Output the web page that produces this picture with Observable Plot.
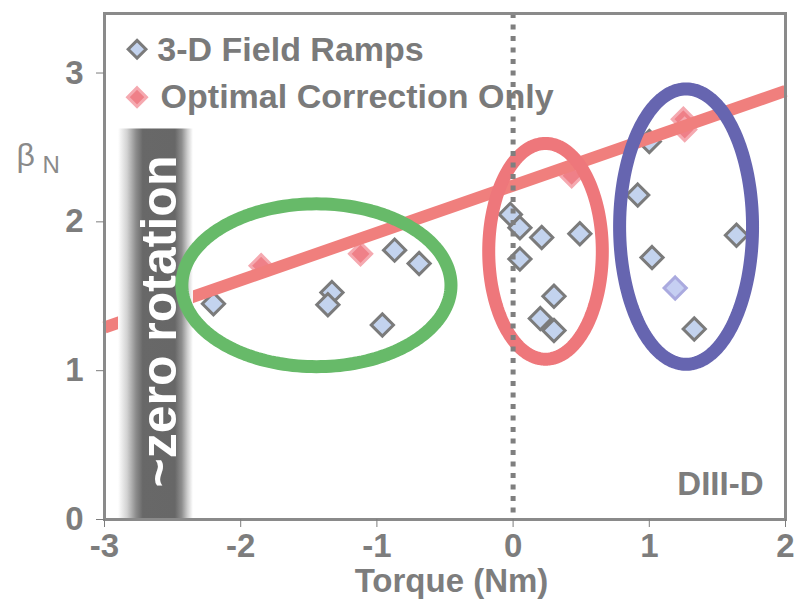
<!DOCTYPE html>
<html>
<head>
<meta charset="utf-8">
<script src="https://cdn.jsdelivr.net/npm/d3@7"></script>
<script src="https://cdn.jsdelivr.net/npm/@observablehq/plot@0.6"></script>
<style>
  html, body { margin: 0; padding: 0; background: #fff; }
</style>
</head>
<body>
<div id="chart"></div>
<script>
// Shots with 3-D field ramps: torque (Nm) and normalized beta
const rampTorque = [-2.20, -1.33, -1.36, -0.96, -0.87, -0.69, -0.02, 0.05, 0.21, 0.49, 0.05, 0.30, 0.20, 0.30, 1.00, 0.915, 1.64, 1.02, 1.33];
const rampBeta   = [ 1.45,  1.525, 1.443, 1.307, 1.81,  1.72,  2.05, 1.96, 1.895, 1.92, 1.75, 1.50, 1.35, 1.27, 2.54, 2.18, 1.91, 1.76, 1.28];
// Faded ramp shot
const fadedTorque = [1.19];
const fadedBeta   = [1.555];
// Shots with optimal error-field correction only
const optTorque = [-1.85, -1.12, 0.43, 1.25, 1.26];
const optBeta   = [ 1.705, 1.785, 2.31, 2.69, 2.62];

// Linear trend through the optimal-correction shots
const trendTorque = [-3, 2];
const trendBeta   = [1.29, 2.88];

// Zero-rotation band
const bandTorque = [-2.897, -2.347];
const bandBeta   = [0, 2.624];

// Shot groups circled on the chart
const groupNames = ["low", "mid", "high"];
const groupCx = [-1.444, 0.238, 1.27];
const groupCy = [1.574, 1.802, 1.968];
const groupRx = [0.988, 0.417, 0.488];
const groupRy = [0.547, 0.725, 0.925];

const xTicks = [-3, -2, -1, 0, 1, 2];
const yTicks = [0, 1, 2, 3];
const legendLabels = ["3-D Field Ramps", "Optimal Correction Only"];

const groupColor = {low: "#67ba69", mid: "#ee777b", high: "#6665b0"};

const ramps = rampTorque.map((x, i) => ({x, y: rampBeta[i]}));
const faded = fadedTorque.map((x, i) => ({x, y: fadedBeta[i]}));
const opt = optTorque.map((x, i) => ({x, y: optBeta[i]}));
const trend = trendTorque.map((x, i) => ({x, y: trendBeta[i]}));

// Outline points for each circled group
const outlines = groupNames.map((name, g) =>
  d3.range(0, 360, 2).map(a => {
    const t = a * Math.PI / 180;
    return {name, x: groupCx[g] + groupRx[g] * Math.cos(t), y: groupCy[g] + groupRy[g] * Math.sin(t)};
  })
);

const rampStyle = {symbol: "diamond2", r: 10, fill: "#c3d3ee", stroke: "#7b7b7b", strokeWidth: 3};
const optStyle = {symbol: "diamond2", r: 10, fill: "#ef8088", stroke: "#f5a9b0", strokeWidth: 3};

const chart = Plot.plot({
  width: 806,
  height: 613,
  marginLeft: 104,
  marginRight: 21,
  marginTop: 13,
  marginBottom: 94,
  x: {domain: [-3, 2]},
  y: {domain: [0, 3.4]},
  style: {
    fontFamily: "'Liberation Sans', Arial, sans-serif",
    fontSize: "33px",
    fontWeight: "bold",
    color: "#7d7d7d",
    background: "#fff"
  },
  marks: [
    Plot.dot(ramps, {x: "x", y: "y", ...rampStyle}),
    Plot.dot(faded, {x: "x", y: "y", symbol: "diamond2", r: 10, fill: "#c6cff2", stroke: "#aaaadf", strokeWidth: 3}),
    Plot.dot(opt, {x: "x", y: "y", ...optStyle}),
    Plot.line(trend, {x: "x", y: "y", stroke: "#f07f7d", strokeWidth: 12, strokeLinecap: "butt"}),
    Plot.rect([0], {x1: () => bandTorque[0], x2: () => bandTorque[1], y1: () => bandBeta[0], y2: () => bandBeta[1], fill: "url(#zeroRotationShade)"}),
    Plot.text(["~zero rotation"], {
      x: () => -2.589, y: () => 1.33, rotate: -90,
      fill: "#fff", fontSize: 50, fontWeight: "bold"
    }),
    ...outlines.map(pts => Plot.line(pts, {x: "x", y: "y", curve: "linear-closed", stroke: groupColor[pts[0].name], strokeWidth: 13})),
    Plot.ruleX([0], {stroke: "#7f7f7f", strokeWidth: 5, strokeDasharray: "5,6.5"}),
    Plot.frame({stroke: "#8a8a8a", strokeWidth: 3}),
    Plot.axisX({ticks: xTicks, tickFormat: d => String(d), tickSize: 8, tickPadding: 6, label: null}),
    Plot.axisY({ticks: yTicks, tickFormat: d => String(d), tickSize: 8, tickPadding: 13, label: null}),
    // legend
    Plot.dot([0], {x: () => -2.761, y: () => 3.16, symbol: "diamond2", r: 8, fill: "#c3d3ee", stroke: "#7b7b7b", strokeWidth: 3}),
    Plot.dot([0], {x: () => -2.761, y: () => 2.838, symbol: "diamond2", r: 8.5, fill: "#ef8088", stroke: "#f5a9b0", strokeWidth: 3}),
    Plot.text([legendLabels[0]], {x: () => -2.612, y: () => 3.152, text: d => d, textAnchor: "start", fontSize: 34, fill: "#7a7a7a"}),
    Plot.text([legendLabels[1]], {x: () => -2.588, y: () => 2.836, text: d => d, textAnchor: "start", fontSize: 34, fill: "#7a7a7a"}),
    // machine tag
    Plot.text(["DIII-D"], {frameAnchor: "bottom-right", dx: -22, dy: -24.6, textAnchor: "end", fontSize: 33, fill: "#7d7d7d"}),
    // axis titles
    Plot.text(["Torque (Nm)"], {frameAnchor: "bottom", dx: 6.5, dy: 72.4, fontSize: 33, fill: "#7d7d7d"}),
    Plot.text(["β"], {frameAnchor: "top-left", dx: -88, dy: 129.4, textAnchor: "start", fontSize: 32, fontWeight: "normal", fill: "#8a8a8a"}),
    Plot.text(["N"], {frameAnchor: "top-left", dx: -62, dy: 142.3, textAnchor: "start", fontSize: 24, fontWeight: "normal", fill: "#8a8a8a"})
  ]
});

// Horizontal shading for the zero-rotation band
const defs = d3.select(chart).insert("defs", ":first-child");
const grad = defs.append("linearGradient")
  .attr("id", "zeroRotationShade")
  .attr("x1", 0).attr("x2", 1).attr("y1", 0).attr("y2", 0);
[
  [0.00, "#ffffff"], [0.12, "#d2d2d2"], [0.24, "#8c8c8c"], [0.33, "#686868"],
  [0.76, "#676767"], [0.85, "#8e8e8e"], [0.93, "#d0d0d0"], [1.00, "#ffffff"]
].forEach(([o, c]) => grad.append("stop").attr("offset", o).attr("stop-color", c));

document.getElementById("chart").appendChild(chart);
</script>
</body>
</html>
